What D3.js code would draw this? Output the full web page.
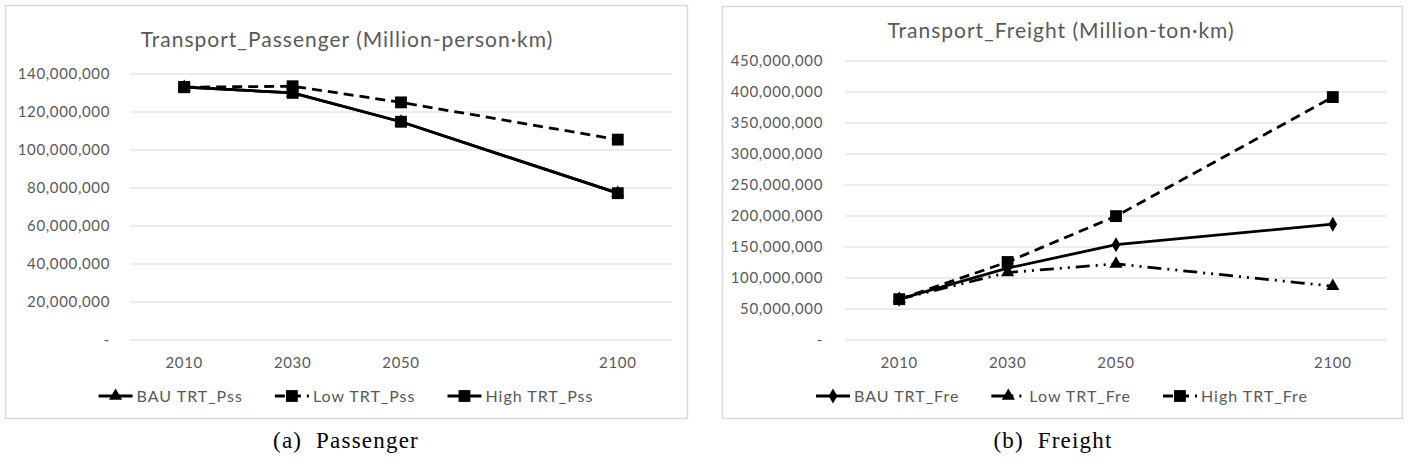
<!DOCTYPE html>
<html><head><meta charset="utf-8">
<script src="https://cdn.jsdelivr.net/npm/d3@7"></script>
<style>
html,body{margin:0;padding:0;background:#fff;}
svg{display:block;}
</style></head>
<body>
<svg id="chart" width="1409" height="466"></svg>
<script>
// ---- data ----
const years = ["2010", "2030", "2050", "2100"];
const slotDomain = ["2010", "2030", "2050", "gap", "2100"];

const passTitle = "Transport_Passenger (Million-person·km)";
const passTicks = [0, 20e6, 40e6, 60e6, 80e6, 100e6, 120e6, 140e6];
const passBAU  = [132.8e6, 129.8e6, 114.6e6, 77.0e6];
const passLow  = [132.8e6, 133.3e6, 124.8e6, 105.2e6];
const passHigh = [132.8e6, 129.8e6, 114.6e6, 77.0e6];
const passNames = ["BAU TRT_Pss", "Low TRT_Pss", "High TRT_Pss"];
const passCaption = "(a)  Passenger";

const freTitle = "Transport_Freight (Million-ton·km)";
const freTicks = [0, 50e6, 100e6, 150e6, 200e6, 250e6, 300e6, 350e6, 400e6, 450e6];
const freBAU  = [65e6, 115e6, 153e6, 186e6];
const freLow  = [65e6, 108e6, 122e6, 86e6];
const freHigh = [65e6, 125e6, 199e6, 391e6];
const freNames = ["BAU TRT_Fre", "Low TRT_Fre", "High TRT_Fre"];
const freCaption = "(b)  Freight";

// ---- drawing ----
const svg = d3.select("#chart");
const TXT = "#595959", GRID = "#d9d9d9";
const FONT = "Lato, 'Open Sans', sans-serif";

const symbols = {
  triangle: d3.symbol().type(d3.symbolTriangle).size(75),
  square: d3.symbol().type(d3.symbolSquare).size(140),
  diamond: d3.symbol().type(d3.symbolDiamond).size(65)
};

function panel(cfg) {
  const g = svg.append("g");
  g.append("rect").attr("x", cfg.box[0] + 0.5).attr("y", cfg.box[1] + 0.5)
    .attr("width", cfg.box[2]).attr("height", cfg.box[3])
    .attr("fill", "#fff").attr("stroke", GRID).attr("stroke-width", 1.5);

  const x = d3.scaleBand().domain(slotDomain).range([cfg.plot[0], cfg.plot[1]]);
  const y = d3.scaleLinear().domain([0, d3.max(cfg.ticks)]).range([cfg.plot[3], cfg.plot[2]]);
  const cx = d => x(d) + x.bandwidth() / 2;

  // gridlines + y labels
  const yAxis = d3.axisLeft(y).tickValues(cfg.ticks)
    .tickSize(-(cfg.plot[1] - cfg.plot[0]))
    .tickFormat(d => d === 0 ? "-" : d3.format(",")(d));
  const ya = g.append("g").attr("transform", `translate(${cfg.plot[0]},0)`).call(yAxis);
  ya.select(".domain").remove();
  ya.selectAll(".tick line").attr("stroke", GRID).attr("stroke-width", 1);
  ya.selectAll(".tick text").attr("x", -(cfg.plot[0] - cfg.labelRight))
    .attr("fill", TXT).style("font-family", FONT).style("font-size", "15px")
    .style("letter-spacing", "0.65px");

  // x axis labels
  const xAxis = d3.axisBottom(x).tickValues(years).tickSize(0).tickPadding(0);
  const xa = g.append("g").attr("transform", `translate(0,${cfg.yearY})`).call(xAxis);
  xa.select(".domain").remove();
  xa.selectAll(".tick text").attr("dy", "0.35em").attr("y", 0)
    .attr("fill", TXT).style("font-family", FONT).style("font-size", "15px")
    .style("letter-spacing", "0.65px");

  // title
  g.append("text").attr("x", cfg.titleX).attr("y", cfg.titleY).attr("dy", "0.35em")
    .attr("text-anchor", "middle").attr("fill", TXT)
    .style("font-family", FONT).style("font-size", "21px").style("letter-spacing", "1px")
    .text(cfg.title);

  // series
  const line = d3.line().x((d, i) => cx(years[i])).y(d => y(d));
  cfg.series.forEach(s => {
    g.append("path").datum(s.values).attr("d", line)
      .attr("fill", "none").attr("stroke", "#000").attr("stroke-width", 2.8)
      .attr("stroke-dasharray", s.dash || null).attr("stroke-linejoin", "round");
    g.selectAll(null).data(s.values).join("path")
      .attr("transform", (d, i) => `translate(${cx(years[i])},${y(d)})`)
      .attr("d", symbols[s.marker]).attr("fill", "#000");
  });

  // legend
  const lg = g.append("g").attr("transform", `translate(0,${cfg.legendY})`);
  const items = cfg.series.map((s, i) => {
    const it = lg.append("g");
    it.append("line").attr("x1", 0).attr("x2", 34).attr("y1", 0).attr("y2", 0)
      .attr("stroke", "#000").attr("stroke-width", 2.8).attr("stroke-dasharray", s.dash || null);
    it.append("path").attr("transform", "translate(17,0)").attr("d", symbols[s.marker]).attr("fill", "#000");
    const t = it.append("text").attr("x", 38).attr("dy", "0.35em").attr("fill", TXT)
      .style("font-family", FONT).style("font-size", "16px").style("letter-spacing", "1px")
      .text(s.name);
    return {it, w: 38 + t.node().getComputedTextLength()};
  });
  const gap = 32;
  const total = d3.sum(items, d => d.w) + gap * (items.length - 1);
  let pos = cfg.box[0] + cfg.box[2] / 2 - total / 2;
  items.forEach(d => { d.it.attr("transform", `translate(${pos},0)`); pos += d.w + gap; });

  // caption
  svg.append("text").attr("x", cfg.captionX).attr("y", cfg.captionY).attr("dy", "0.35em")
    .attr("text-anchor", "middle").attr("fill", "#000")
    .style("font-family", "'Liberation Serif', serif").style("font-size", "23px")
    .style("white-space", "pre").style("letter-spacing", "1.2px")
    .text(cfg.caption);
}

panel({
  box: [5, 5, 682, 413], plot: [130, 672, 73.5, 339.5], labelRight: 110,
  ticks: passTicks, title: passTitle, titleX: 347, titleY: 40,
  yearY: 363, legendY: 396, captionX: 346, captionY: 440, caption: passCaption,
  series: [
    {name: passNames[0], values: passBAU, marker: "triangle"},
    {name: passNames[1], values: passLow, marker: "square", dash: "10,6"},
    {name: passNames[2], values: passHigh, marker: "square"}
  ]
});

panel({
  box: [722, 6, 680, 412], plot: [845, 1387, 60.5, 339.5], labelRight: 823,
  ticks: freTicks, title: freTitle, titleX: 1061, titleY: 31,
  yearY: 363, legendY: 396, captionX: 1053, captionY: 440, caption: freCaption,
  series: [
    {name: freNames[0], values: freBAU, marker: "diamond"},
    {name: freNames[1], values: freLow, marker: "triangle", dash: "14,6,2,6,2,6"},
    {name: freNames[2], values: freHigh, marker: "square", dash: "10,6"}
  ]
});
</script>
</body></html>
